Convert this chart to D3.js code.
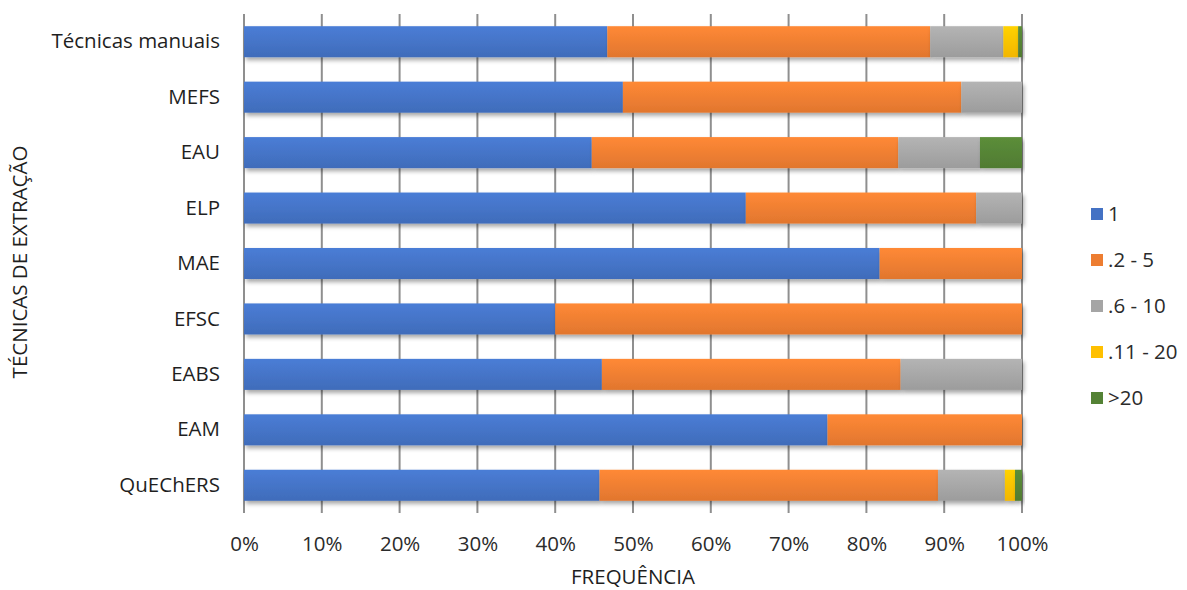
<!DOCTYPE html>
<html>
<head>
<meta charset="utf-8">
<script src="https://cdn.jsdelivr.net/npm/d3@7"></script>
<style>
  html, body { margin: 0; padding: 0; background: #fff; }
  svg { display: block; font-family: "Open Sans", Lato, sans-serif; }
</style>
</head>
<body>
<svg id="chart" width="1187" height="590"></svg>
<script>
// Extraction techniques, top to bottom
const categories = ["Técnicas manuais", "MEFS", "EAU", "ELP", "MAE", "EFSC", "EABS", "EAM", "QuEChERS"];
// Frequency classes (legend order)
const seriesNames = ["1", ".2 - 5", ".6 - 10", ".11 - 20", ">20"];
// Share (%) of each class per technique
const s1    = [46.7, 48.7, 44.7, 64.5, 81.7, 40.0, 46.0, 75.0, 45.7];
const s2_5  = [41.5, 43.5, 39.4, 29.6, 18.3, 60.0, 38.4, 25.0, 43.5];
const s6_10 = [ 9.4,  7.8, 10.5,  5.9,  0.0,  0.0, 15.6,  0.0,  8.6];
const s11_20= [ 1.9,  0.0,  0.0,  0.0,  0.0,  0.0,  0.0,  0.0,  1.3];
const s20   = [ 0.5,  0.0,  5.4,  0.0,  0.0,  0.0,  0.0,  0.0,  0.9];
const xTicks = [0, 10, 20, 30, 40, 50, 60, 70, 80, 90, 100];

const colors = ["#4472C4", "#ED7D31", "#A5A5A5", "#FFC000", "#548235"];
const allSeries = [s1, s2_5, s6_10, s11_20, s20];

const rows = categories.map((c, i) => {
  const r = { cat: c };
  seriesNames.forEach((s, k) => r[s] = allSeries[k][i]);
  return r;
});

const FONT = 20.5;
const svg = d3.select("#chart");
const x = d3.scaleLinear().domain([0, 100]).range([244, 1022]);
const y = d3.scaleBand().domain(categories).range([14, 513]).paddingInner(0.44).paddingOuter(0.22);

const defs = svg.append("defs");
const sh = defs.append("filter").attr("id", "shadow").attr("x", "-5%").attr("y", "-20%").attr("width", "110%").attr("height", "160%");
sh.append("feDropShadow").attr("dx", 2).attr("dy", 3).attr("stdDeviation", 2).attr("flood-color", "#000").attr("flood-opacity", 0.35);

colors.forEach((c, k) => {
  const g = defs.append("linearGradient").attr("id", "grad" + k).attr("x1", 0).attr("y1", 0).attr("x2", 0).attr("y2", 1);
  g.append("stop").attr("offset", "0%").attr("stop-color", d3.color(c).brighter(0.25));
  g.append("stop").attr("offset", "100%").attr("stop-color", d3.color(c).darker(0.15));
});

// vertical gridlines
svg.append("g")
  .selectAll("line").data(xTicks).join("line")
  .attr("x1", d => x(d)).attr("x2", d => x(d))
  .attr("y1", 14).attr("y2", 513)
  .attr("stroke", "#8f8f8f").attr("stroke-width", 2);

// stacked bars
const stack = d3.stack().keys(seriesNames)(rows);
svg.append("g").selectAll("g").data(stack).join("g")
  .attr("fill", (d, k) => `url(#grad${k})`)
  .attr("filter", "url(#shadow)")
  .selectAll("rect").data(d => d.filter(p => p[1] - p[0] > 0)).join("rect")
  .attr("x", d => x(d[0]))
  .attr("width", d => x(d[1]) - x(d[0]))
  .attr("y", d => y(d.data.cat))
  .attr("height", y.bandwidth());

// x tick labels
const xAxis = d3.axisBottom(x).tickValues(xTicks).tickFormat(d => d + "%").tickSize(0).tickPadding(0);
const gx = svg.append("g").attr("transform", "translate(0,536)").call(xAxis);
gx.select(".domain").remove();
gx.selectAll("text").attr("font-size", FONT).attr("fill", "#2b2b2b").attr("font-family", "'Open Sans', sans-serif");

// y category labels
const yAxis = d3.axisLeft(y).tickSize(0).tickPadding(0);
const gy = svg.append("g").attr("transform", "translate(220,0)").call(yAxis);
gy.select(".domain").remove();
gy.selectAll("text").attr("font-size", FONT).attr("fill", "#1f1f1f").attr("font-family", "'Open Sans', sans-serif");

// axis titles
svg.append("text").attr("x", 633).attr("y", 584).attr("text-anchor", "middle")
  .attr("font-size", FONT).attr("fill", "#1f1f1f").text("FREQUÊNCIA");
svg.append("text").attr("transform", "translate(27,262) rotate(-90)").attr("text-anchor", "middle")
  .attr("font-size", FONT).attr("fill", "#1f1f1f").text("TÉCNICAS DE EXTRAÇÃO");

// legend
const legend = svg.append("g").attr("transform", "translate(1091,214)");
const li = legend.selectAll("g").data(seriesNames).join("g")
  .attr("transform", (d, k) => `translate(0,${k * 46})`);
li.append("rect").attr("x", 0).attr("y", -6).attr("width", 12).attr("height", 12)
  .attr("fill", (d, k) => colors[k]);
li.append("text").attr("x", 17).attr("y", 0).attr("dy", "0.35em")
  .attr("font-size", FONT).attr("fill", "#2b2b2b").text(d => d);
</script>
</body>
</html>
